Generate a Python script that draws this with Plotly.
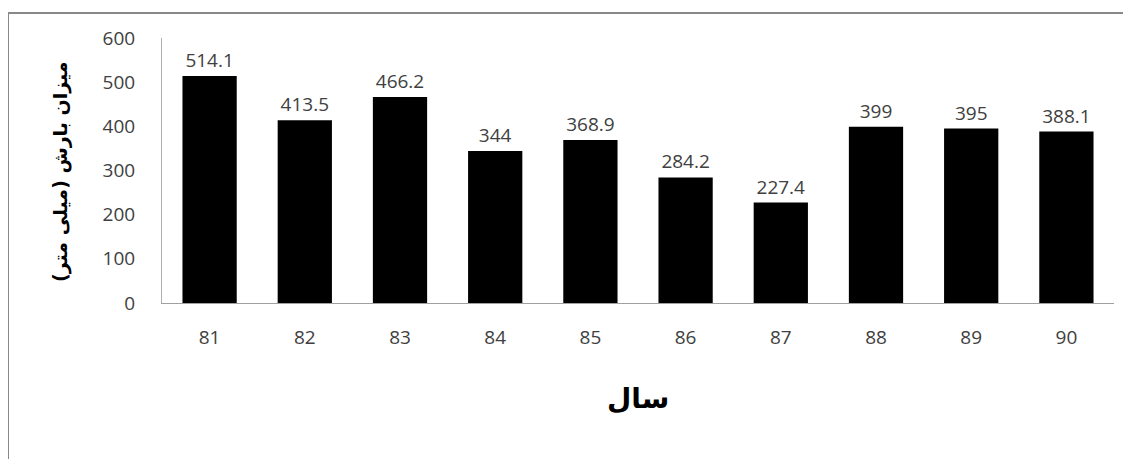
import plotly.graph_objects as go

years = ["81", "82", "83", "84", "85", "86", "87", "88", "89", "90"]
rainfall = [514.1, 413.5, 466.2, 344, 368.9, 284.2, 227.4, 399, 395, 388.1]
labels = ["514.1", "413.5", "466.2", "344", "368.9", "284.2", "227.4", "399", "395", "388.1"]
y_ticks = [0, 100, 200, 300, 400, 500, 600]

# page body has an 8px default margin
OFF = 8
W, H = 1131, 459
L, R, T, B = 162 - OFF, 17 + OFF, 38 - OFF, 156 + OFF
pw, ph = W - L - R, H - T - B

def px_x(px):
    return (px - OFF - L) / pw

def px_y(py):
    return 1 - (py - OFF - T) / ph

fig = go.Figure(go.Bar(
    x=years, y=rainfall, text=labels, textposition="outside",
    textfont=dict(family="Open Sans, Liberation Sans", size=19, color="#404040"),
    marker=dict(color="black", line=dict(width=0)),
    cliponaxis=False,
))

fig.update_layout(
    width=W, height=H,
    margin=dict(l=L, r=R, t=T, b=B, autoexpand=False),
    paper_bgcolor="white", plot_bgcolor="white",
    bargap=0.43,
    showlegend=False,
    xaxis=dict(
        type="category", showline=True, linecolor="#a0a0a0", linewidth=1,
        ticks="", showgrid=False, ticklabelstandoff=17,
        tickfont=dict(family="Open Sans, Liberation Sans", size=19, color="#404040"),
    ),
    yaxis=dict(
        range=[0, 600], tickvals=y_ticks, showline=True, linecolor="#b0b0b0", linewidth=1,
        ticks="", showgrid=False, zeroline=False, ticklabelstandoff=22,
        tickfont=dict(family="Open Sans, Liberation Sans", size=19, color="#404040"),
    ),
    shapes=[
        dict(type="line", xref="paper", yref="paper",
             x0=px_x(8), x1=px_x(W + 20), y0=px_y(13), y1=px_y(13),
             line=dict(color="#888888", width=2)),
        dict(type="line", xref="paper", yref="paper",
             x0=px_x(8), x1=px_x(8), y0=px_y(13), y1=px_y(H + 20),
             line=dict(color="#888888", width=2)),
    ],
    annotations=[
        dict(text="<b>سال</b>", xref="paper", yref="paper",
             x=px_x(638), y=px_y(398),
             showarrow=False, xanchor="center", yanchor="middle",
             font=dict(family="DejaVu Sans", size=28, color="black")),
        dict(text="<b>میزان بارش (میلی متر)</b>", xref="paper", yref="paper",
             x=px_x(60), y=px_y(172),
             showarrow=False, textangle=-90, xanchor="center", yanchor="middle",
             font=dict(family="DejaVu Sans", size=19, color="black")),
    ],
)

fig.write_html("out.html")
